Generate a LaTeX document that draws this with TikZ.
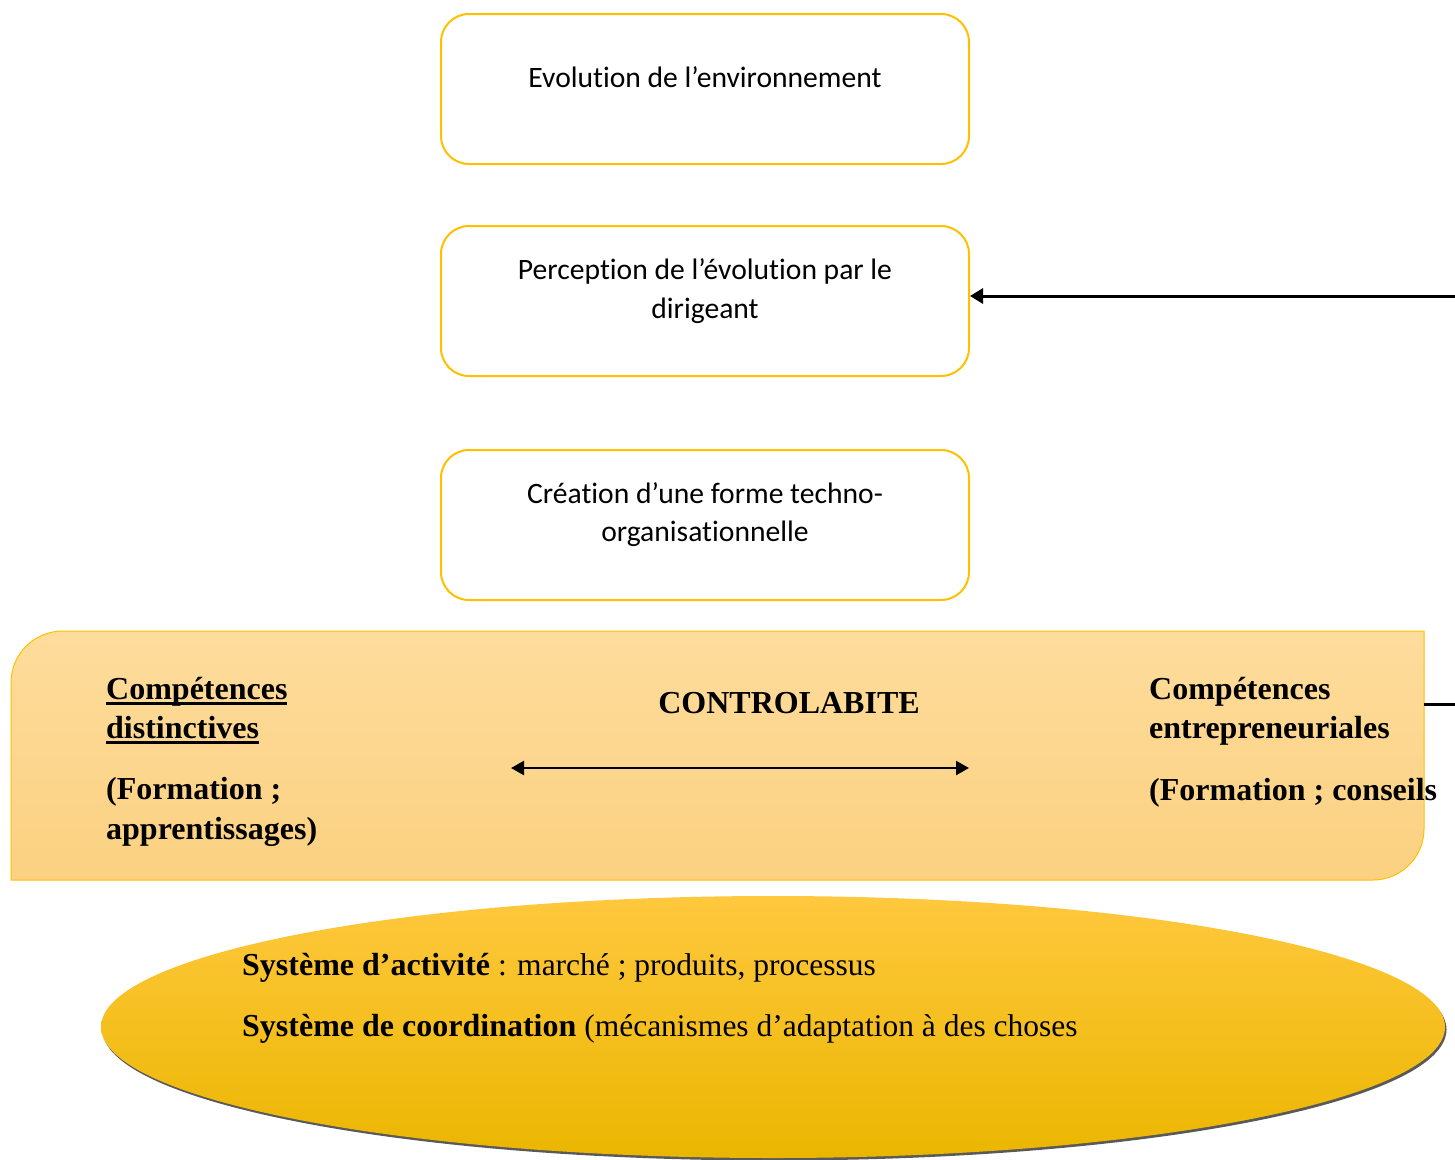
\documentclass[tikz,border=0pt]{standalone}
\usepackage{fontspec}
\setmainfont{Liberation Serif}
\newfontfamily\calib[Ligatures=NoCommon]{Carlito}
\usetikzlibrary{arrows.meta}

\definecolor{gold}{HTML}{FFC000}
\definecolor{bandtop}{HTML}{FEDC9C}
\definecolor{bandbot}{HTML}{FBD181}
\definecolor{elltop}{HTML}{FFC83E}
\definecolor{ellmid}{HTML}{FFC600}
\definecolor{ellbot}{HTML}{EBB600}

% bold underline with a heavier rule
\newcommand\boldul[1]{\setbox0\hbox{#1}\rlap{\rule[-6pt]{\wd0}{2.6pt}}\box0}

\begin{document}
\begin{tikzpicture}[x=1pt,y=-1pt,
  stagebox/.style={draw=gold, line width=2pt, rounded corners=28pt,
    minimum width=528pt, minimum height=150pt, inner sep=0pt},
  cal/.style={font=\calib\fontsize{29.6}{40}\selectfont, anchor=base, inner sep=0pt},
  tim/.style={font=\fontsize{32}{38}\selectfont\bfseries, anchor=base west, inner sep=0pt},
  timr/.style={font=\fontsize{31.5}{38}\selectfont, anchor=base west, inner sep=0pt},
  link/.style={line width=3pt, -{Triangle[length=13pt,width=15pt]}},
]
\useasboundingbox (0,0) rectangle (1455,1159);

% three stages
\node[stagebox] (env)  at (705,89)  {};
\node[stagebox] (perc) at (705,301) {};
\node[stagebox] (crea) at (705,525) {};

\node[cal] (envt)  at (705,87)  {Evolution de l’environnement};
\node[cal] (perct) at (705,279) {Perception de l’évolution par le};
\node[cal] (percu) at (705,318) {dirigeant};
\node[cal] (creat) at (705,503) {Création d’une forme techno-};
\node[cal] (creau) at (705,541) {organisationnelle};

% competences band
\path[draw=gold, line width=1pt, top color=bandtop, bottom color=bandbot]
  (11,880) -- (11,683) .. controls (11,654) and (34,631) .. (63,631)
  -- (1424,631) -- (1424,829) .. controls (1424,857) and (1401,880) .. (1373,880)
  -- cycle;

\node[tim] (cd1) at (106,699) {\boldul{Compétences}};
\node[tim] (cd2) at (106,738) {\boldul{distinctives}};
\node[tim] (cd3) at (106,799) {(Formation ;};
\node[tim] (cd4) at (106,839) {apprentissages)};

\node[tim, anchor=base] (ctrl) at (789,713) {CONTROLABITE};
\coordinate (dl) at (511,768);
\coordinate (dr) at (969,768);
\draw[line width=2.5pt, {Triangle[length=13pt,width=14pt]}-{Triangle[length=13pt,width=14pt]}] (dl) -- (dr);

\node[tim] (ce1) at (1149,699) {Compétences};
\node[tim] (ce2) at (1149,738) {entrepreneuriales};
\node[tim] (ce3) at (1149,800) {(Formation ; conseils};

% feedback loop leaving the band and returning to the perception stage
\coordinate (outb) at (1455,704);
\coordinate (outp) at (1455,296);
\draw[line width=3pt] (1424,704) -- (outb);
\draw[link] (outp) -- (perc.east |- outp);

% activity system ellipse
\fill[black!65] (774.5,1029.5) ellipse [x radius=672pt, y radius=131pt];
\shade[top color=elltop, middle color=ellmid, bottom color=ellbot]
  (773,1027) ellipse [x radius=672pt, y radius=131pt];
\node[inner sep=0pt] (sys) at (773,1027) {};

\node[timr] (s1) at (242,975) {\textbf{\fontsize{32}{38}\selectfont Système d’activité} : marché ; produits, processus};
\node[timr] (s2) at (242,1036) {\textbf{\fontsize{32}{38}\selectfont Système de coordination} (mécanismes d’adaptation à des choses};
\end{tikzpicture}
\end{document}
